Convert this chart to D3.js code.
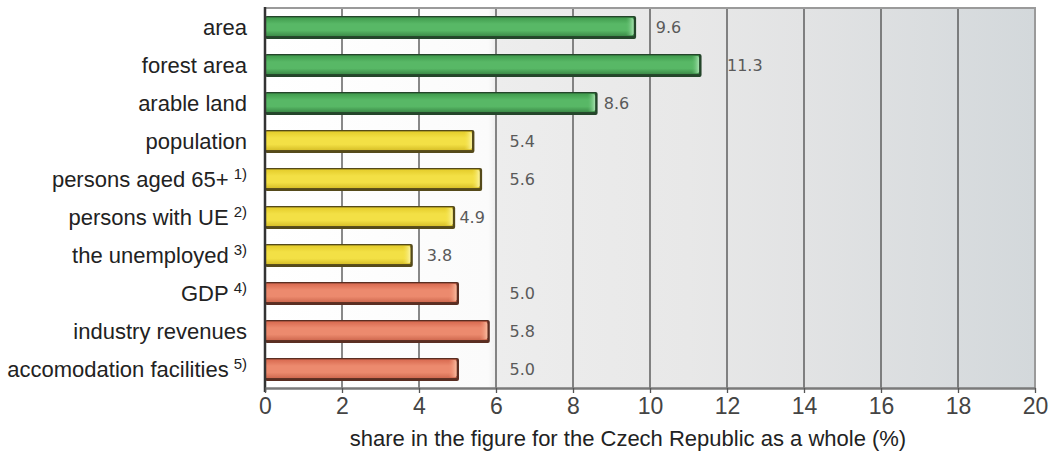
<!DOCTYPE html>
<html>
<head>
<meta charset="utf-8">
<script src="https://cdn.jsdelivr.net/npm/d3@7"></script>
<style>
  html, body { margin: 0; padding: 0; background: #ffffff; }
  svg { display: block; }
</style>
</head>
<body>
<svg id="chart" width="1058" height="452"></svg>
<script>
// ---------- data ----------
const categories = ["area", "forest area", "arable land", "population", "persons aged 65+",
  "persons with UE", "the unemployed", "GDP", "industry revenues", "accomodation facilities"];
const footnotes = ["", "", "", "", "1)", "2)", "3)", "4)", "", "5)"];
const values = [9.6, 11.3, 8.6, 5.4, 5.6, 4.9, 3.8, 5.0, 5.8, 5.0];
const valueLabels = ["9.6", "11.3", "8.6", "5.4", "5.6", "4.9", "3.8", "5.0", "5.8", "5.0"];
const groups = ["land", "land", "land", "people", "people", "people", "people", "economy", "economy", "economy"];
// where each value label starts, in axis units (as placed in the original)
const labelAt = [10.15, 12.0, 8.8, 6.35, 6.35, 5.05, 4.2, 6.35, 6.35, 6.35];
const tickValues = [0, 2, 4, 6, 8, 10, 12, 14, 16, 18, 20];
const axisTitle = "share in the figure for the Czech Republic as a whole (%)";

// ---------- styles ----------
const palette = {
  land:    { top: "#3f9a4c", mid: "#58b866", bot: "#3c8c48", hi: "#a6e0ae", edge: "#24452a" },
  people:  { top: "#e4cc2a", mid: "#f3e045", bot: "#d8c029", hi: "#fbf3a0", edge: "#554a1a" },
  economy: { top: "#d8694f", mid: "#ec8a6e", bot: "#d06a50", hi: "#f9bca0", edge: "#5a2e22" }
};

const svg = d3.select("#chart");
const margin = { left: 265, right: 1058 - 1035, top: 8, bottom: 452 - 388 };
const W = 1058, H = 452;
const x = d3.scaleLinear().domain([0, 20]).range([margin.left, W - margin.right]);
const y = d3.scaleBand().domain(d3.range(categories.length))
  .range([margin.top, H - margin.bottom]).paddingInner(0.45).paddingOuter(0.225);

const defs = svg.append("defs");
const bg = defs.append("linearGradient").attr("id", "bg").attr("x1", "0").attr("x2", "1").attr("y1", "0").attr("y2", "0");
[["0%", "#ffffff"], ["29%", "#fbfbfb"], ["30%", "#ededed"], ["55%", "#e8e8e8"], ["70%", "#e2e3e4"], ["100%", "#d3d8db"]]
  .forEach(([o, c]) => bg.append("stop").attr("offset", o).attr("stop-color", c));

Object.entries(palette).forEach(([k, p]) => {
  const g = defs.append("linearGradient").attr("id", "bar-" + k).attr("x1", "0").attr("x2", "0").attr("y1", "0").attr("y2", "1");
  [["0%", p.top], ["35%", p.mid], ["70%", p.mid], ["100%", p.bot]]
    .forEach(([o, c]) => g.append("stop").attr("offset", o).attr("stop-color", c));
  const h = defs.append("linearGradient").attr("id", "hi-" + k).attr("x1", "0").attr("x2", "1").attr("y1", "0").attr("y2", "0");
  [["0%", p.mid, 0], ["100%", p.hi, 1]]
    .forEach(([o, c, a]) => h.append("stop").attr("offset", o).attr("stop-color", c).attr("stop-opacity", a));
});

// plot background
svg.append("rect")
  .attr("x", x(0)).attr("y", margin.top)
  .attr("width", x(20) - x(0)).attr("height", H - margin.bottom - margin.top)
  .attr("fill", "url(#bg)");

// grid lines
svg.append("g").selectAll("line")
  .data(tickValues.filter(t => t > 0 && t < 20))
  .join("line")
  .attr("x1", d => x(d)).attr("x2", d => x(d))
  .attr("y1", margin.top).attr("y2", H - margin.bottom)
  .attr("stroke", "#4a4a4a").attr("stroke-width", 1.3);

// frame: top and right
svg.append("path")
  .attr("d", `M${x(0)},${margin.top}H${x(20)}V${H - margin.bottom}`)
  .attr("fill", "none").attr("stroke", "#9a9a9a").attr("stroke-width", 2);

// bars
const bars = svg.append("g").selectAll("g.bar")
  .data(values.map((v, i) => ({ v, i, g: groups[i] })))
  .join("g").attr("class", "bar");

bars.append("rect") // shadow / outline
  .attr("x", x(0))
  .attr("y", d => y(d.i) - 0.5)
  .attr("width", d => x(d.v) - x(0) + 1.5)
  .attr("height", y.bandwidth() + 2)
  .attr("rx", 2)
  .attr("fill", d => palette[d.g].edge);

bars.append("rect")
  .attr("x", x(0))
  .attr("y", d => y(d.i) + 0.8)
  .attr("width", d => x(d.v) - x(0) - 1)
  .attr("height", y.bandwidth() - 2.2)
  .attr("fill", d => `url(#bar-${d.g})`);

bars.append("rect") // light tip at the end of each bar
  .attr("x", d => x(d.v) - 9)
  .attr("y", d => y(d.i) + 1.5)
  .attr("width", 8)
  .attr("height", y.bandwidth() - 3.6)
  .attr("rx", 2)
  .attr("fill", d => `url(#hi-${d.g})`);

// value labels
svg.append("g").selectAll("text")
  .data(valueLabels)
  .join("text")
  .attr("x", (d, i) => x(labelAt[i]))
  .attr("y", (d, i) => y(i) + y.bandwidth() / 2 + 6)
  .attr("font-family", "DejaVu Sans, Verdana, sans-serif")
  .attr("font-size", 16)
  .attr("fill", "#5a5a5a")
  .text(d => d);

// left axis line
svg.append("line")
  .attr("x1", x(0)).attr("x2", x(0))
  .attr("y1", margin.top - 1).attr("y2", H - margin.bottom + 4)
  .attr("stroke", "#333").attr("stroke-width", 2.5);

// bottom axis
const xAxis = d3.axisBottom(x).tickValues(tickValues).tickSize(5).tickSizeOuter(0).tickFormat(d3.format("d"));
const gx = svg.append("g").attr("transform", `translate(0,${H - margin.bottom})`).call(xAxis);
gx.select(".domain").attr("stroke", "#7a7a7a").attr("stroke-width", 2.5);
gx.selectAll(".tick line").attr("stroke", "#555").attr("stroke-width", 1.3);
gx.selectAll(".tick text")
  .attr("font-family", "Liberation Sans Narrow, Liberation Sans, Arial, sans-serif")
  .attr("font-size", 23)
  .attr("fill", "#444")
  .attr("dy", "0.95em")
  .attr("y", 4);

// axis title
svg.append("text")
  .attr("x", 628).attr("y", 446)
  .attr("text-anchor", "middle")
  .attr("font-family", "Liberation Sans, Arial, Helvetica, sans-serif")
  .attr("font-size", 22)
  .attr("fill", "#222")
  .text(axisTitle);

// category labels
const labels = svg.append("g").selectAll("text")
  .data(categories)
  .join("text")
  .attr("x", 247)
  .attr("y", (d, i) => y(i) + y.bandwidth() / 2 + 8)
  .attr("text-anchor", "end")
  .attr("font-family", "Liberation Sans, Arial, Helvetica, sans-serif")
  .attr("font-size", 22)
  .attr("fill", "#222");
labels.each(function (d, i) {
  const t = d3.select(this);
  t.append("tspan").text(d);
  if (footnotes[i]) {
    t.append("tspan").attr("font-size", 15).attr("dx", 5).attr("dy", -8).text(footnotes[i]);
  }
});
</script>
</body>
</html>
